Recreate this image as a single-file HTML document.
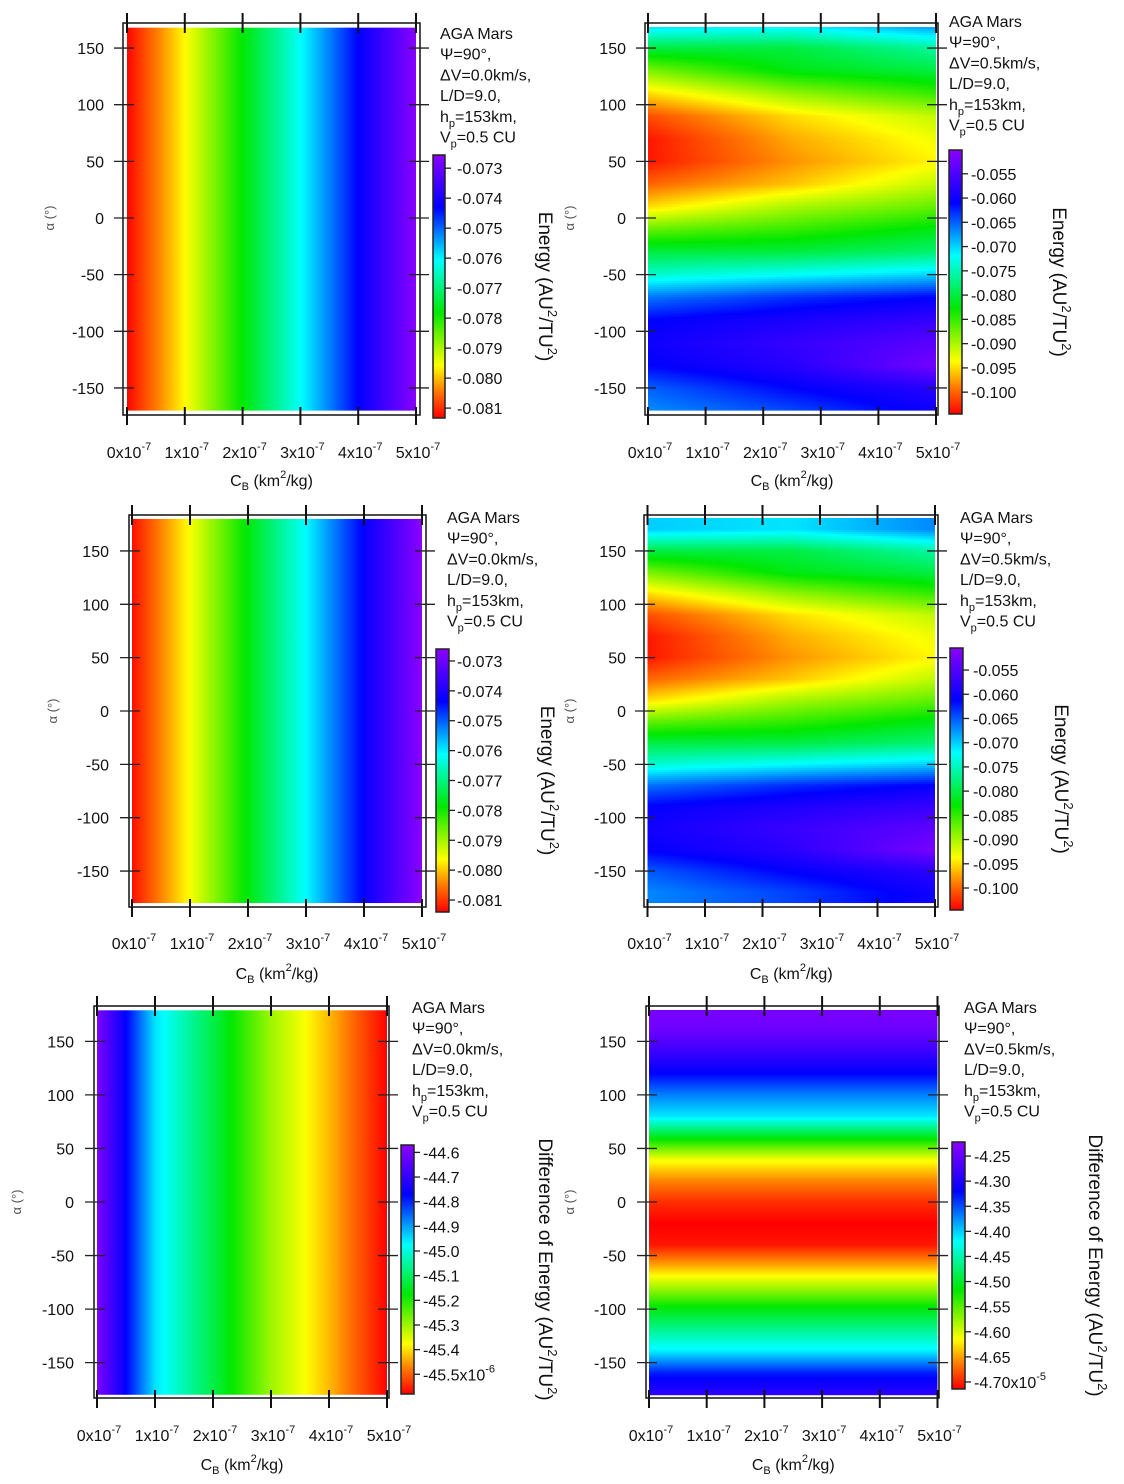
<!DOCTYPE html>
<html><head><meta charset="utf-8"><style>
html,body{margin:0;padding:0;background:#fff;}
svg{display:block;font-family:"Liberation Sans",Arial,sans-serif;}
</style></head><body>
<svg id="fig" width="1124" height="1484" viewBox="0 0 1124 1484" xmlns="http://www.w3.org/2000/svg"><defs id="defs"></defs></svg>
<script>
// ---------- DATA ----------
const xTickValues = [0,1,2,3,4,5];
const yTickValues = [150,100,50,0,-50,-100,-150];
// Panel 1 / 3 : energy vs CB (uniform in alpha), DeltaV = 0.0
const p1Cb = [0,1,2,3,4,5];
const p1Energy = [-0.0813,-0.0796,-0.0778,-0.0761,-0.0743,-0.0726];
const p3Cb = [0,1,2,3,4,5];
const p3Energy = [-0.0813,-0.0796,-0.0778,-0.0761,-0.0743,-0.0726];
const energyLabels0 = ["-0.073","-0.074","-0.075","-0.076","-0.077","-0.078","-0.079","-0.080","-0.081"];
const energyTicks0 = [-0.073,-0.074,-0.075,-0.076,-0.077,-0.078,-0.079,-0.080,-0.081];
// Panel 2 / 4 : energy vs alpha and CB, DeltaV = 0.5
const p2Alpha = [-170,-150,-130,-110,-90,-70,-50,-30,-10,10,30,50,70,90,110,130,150,170];
const p2CbGrid = [0,2.5,5];
const p2AtCb0  = [-0.067,-0.065,-0.061,-0.060,-0.061,-0.066,-0.074,-0.080,-0.087,-0.095,-0.100,-0.1035,-0.1035,-0.101,-0.095,-0.088,-0.080,-0.070];
const p2AtCb25 = [-0.064,-0.061,-0.058,-0.057,-0.059,-0.063,-0.072,-0.080,-0.085,-0.090,-0.096,-0.098,-0.097,-0.095,-0.089,-0.082,-0.080,-0.071];
const p2AtCb5  = [-0.060,-0.058,-0.052,-0.054,-0.057,-0.061,-0.070,-0.078,-0.082,-0.087,-0.091,-0.094,-0.093,-0.091,-0.085,-0.080,-0.076,-0.067];
const energyLabels5 = ["-0.055","-0.060","-0.065","-0.070","-0.075","-0.080","-0.085","-0.090","-0.095","-0.100"];
const energyTicks5 = [-0.055,-0.060,-0.065,-0.070,-0.075,-0.080,-0.085,-0.090,-0.095,-0.100];
// Panel 5 : energy difference vs CB (x1e-6)
const p5Cb = [0,0.5,1,2,3,4,5];
const p5Diff = [-44.59,-44.77,-44.95,-45.12,-45.30,-45.43,-45.58];
const diffLabels0 = ["-44.6","-44.7","-44.8","-44.9","-45.0","-45.1","-45.2","-45.3","-45.4","-45.5x10"];
const diffTicks0 = [-44.6,-44.7,-44.8,-44.9,-45.0,-45.1,-45.2,-45.3,-45.4,-45.5];
// Panel 6 : energy difference vs alpha (x1e-5)
const p6Alpha = [-180,-160,-140,-120,-100,-80,-60,-40,-20,0,20,40,60,80,100,120,140,160,180];
const p6Diff = [-4.29,-4.33,-4.41,-4.46,-4.51,-4.58,-4.645,-4.705,-4.715,-4.695,-4.66,-4.61,-4.51,-4.41,-4.37,-4.32,-4.28,-4.245,-4.235];
const diffLabels5 = ["-4.25","-4.30","-4.35","-4.40","-4.45","-4.50","-4.55","-4.60","-4.65","-4.70x10"];
const diffTicks5 = [-4.25,-4.30,-4.35,-4.40,-4.45,-4.50,-4.55,-4.60,-4.65,-4.70];

// ---------- HELPERS ----------
const NS="http://www.w3.org/2000/svg";
const svg=document.getElementById('fig');
const defs=document.getElementById('defs');
function mk(tag,attrs,parent){const e=document.createElementNS(NS,tag);for(const k in attrs)e.setAttribute(k,attrs[k]);(parent||svg).appendChild(e);return e;}
const CMAP=[[0,255,0,0],[0.1,255,120,0],[0.2,255,255,0],[0.4,0,232,0],[0.6,0,255,255],[0.8,0,0,255],[1,140,0,255]];
function cmap(f){f=Math.max(0,Math.min(1,f));for(let i=1;i<CMAP.length;i++){if(f<=CMAP[i][0]){const a=CMAP[i-1],b=CMAP[i];const t=(f-a[0])/(b[0]-a[0]);return `rgb(${Math.round(a[1]+t*(b[1]-a[1]))},${Math.round(a[2]+t*(b[2]-a[2]))},${Math.round(a[3]+t*(b[3]-a[3]))})`;}}return 'rgb(140,0,255)';}
function interp(xs,ys,x){if(x<=xs[0])return ys[0];if(x>=xs[xs.length-1])return ys[ys.length-1];for(let i=1;i<xs.length;i++){if(x<=xs[i]){const t=(x-xs[i-1])/(xs[i]-xs[i-1]);return ys[i-1]+t*(ys[i]-ys[i-1]);}}}
let gid=0;

function panel(P){
  const g=mk('g',{});
  
  
  const xs=v=>P.x0+(v/5)*(P.x5-P.x0);
  const ys=a=>P.yZero-a*P.ppd;
  const frac=v=>(v-P.vmin)/(P.vmax-P.vmin);
  const yT=ys(P.aTop), yB=ys(P.aBot);
  const hm=mk('g',{},g);
  
  
  if(P.kind==='x'){
    const id='g'+(gid++);const lg=mk('linearGradient',{id:id,x1:0,y1:0,x2:1,y2:0},defs);
    const N=60;for(let i=0;i<=N;i++){const cb=5*i/N;mk('stop',{offset:i/N,'stop-color':cmap(frac(interp(P.cbs,P.vals,cb)))},lg);}
    const r=mk('rect',{x:xs(0),y:yT,width:xs(5)-xs(0),height:yB-yT,fill:`url(#${id})`},hm);
    
    
  } else if(P.kind==='y'){
    for(let y=Math.floor(yT);y<yB;y++){const a=(P.yZero-(y+0.5))/P.ppd;
      const r=mk('rect',{x:xs(0),y:y,width:xs(5)-xs(0),height:1.2,fill:cmap(frac(interp(P.alphas,P.vals,a)))},hm);
      
      }
  } else {
    for(let y=Math.floor(yT);y<yB;y+=2){const a=(P.yZero-(y+1))/P.ppd;
      const colVals=P.cols.map(c=>interp(P.alphas,c,a));
      const id='g'+(gid++);const lg=mk('linearGradient',{id:id,x1:0,y1:0,x2:1,y2:0},defs);
      const N=20;for(let i=0;i<=N;i++){const cb=5*i/N;mk('stop',{offset:i/N,'stop-color':cmap(frac(interp(P.cbGrid,colVals,cb)))},lg);}
      const r=mk('rect',{x:xs(0),y:y,width:xs(5)-xs(0),height:Math.min(2.3,yB-y),fill:`url(#${id})`},hm);
      
      }
  }
  // frame
  const fr=mk('rect',{x:P.fx,y:P.fy,width:P.fw,height:P.fh,fill:'none',stroke:'#111','stroke-width':1.5},g);
  
  
  // x ticks
  xTickValues.forEach(v=>{const x=xs(v);
    const t1=mk('line',{x1:x,x2:x,y1:P.fy-10,y2:P.fy+10,stroke:'#111','stroke-width':2},g);
    
    
    const t2=mk('line',{x1:x,x2:x,y1:P.fy+P.fh-8,y2:P.fy+P.fh+10,stroke:'#111','stroke-width':2},g);
    
    
    const tl=mk('text',{x:x+2,y:P.tickLabY,'font-size':16,'text-anchor':'middle',fill:'#111'},g);
    
    
    const a=mk('tspan',{},tl);a.textContent=v+'x10';
    const b=mk('tspan',{dy:-8,'font-size':11},tl);b.textContent='-7';
  });
  // y ticks
  yTickValues.forEach(v=>{const y=ys(v);
    const t1=mk('line',{x1:P.fx-9,x2:P.fx+11,y1:y,y2:y,stroke:'#222','stroke-width':1.3},g);
    
    
    const t2=mk('line',{x1:P.fx+P.fw-11,x2:P.fx+P.fw+9,y1:y,y2:y,stroke:'#222','stroke-width':1.3},g);
    
    
    const tl=mk('text',{x:P.yLabRight,y:y+6,'font-size':16,'text-anchor':'end',fill:'#111'},g);
    
    
    tl.textContent=String(v);
  });
  // axis titles
  const xl=mk('text',{x:(P.x0+P.x5)/2,y:P.xlabY,'font-size':16,'text-anchor':'middle',fill:'#111'},g);
  
  
  mk('tspan',{},xl).textContent='C';
  mk('tspan',{dy:4,'font-size':11},xl).textContent='B';
  mk('tspan',{dy:-4},xl).textContent=' (km';
  mk('tspan',{dy:-8,'font-size':11},xl).textContent='2';
  mk('tspan',{dy:8},xl).textContent='/kg)';
  const yl=mk('text',{x:P.alphaX,y:P.yZero,'font-size':13,'text-anchor':'middle',fill:'#555',transform:`rotate(-90 ${P.alphaX} ${P.yZero})`},g);
  
  
  yl.textContent='α (°)';
  // info
  const info=mk('g',{},g);
  
  
  const lines=[['AGA Mars'],['Ψ=90°,'],['ΔV='+P.dv+'km/s,'],['L/D=9.0,'],['h','p','=153km,'],['V','p','=0.5 CU']];
  lines.forEach((L,i)=>{const t=mk('text',{x:P.infoX,y:P.infoY+6+i*20.7,'font-size':16,fill:'#111'},info);
    mk('tspan',{},t).textContent=L[0];
    if(L.length>1){mk('tspan',{dy:5,'font-size':11},t).textContent=L[1];mk('tspan',{dy:-5},t).textContent=L[2];}
  });
  // colorbar
  const C=P.cb;const cbg=mk('g',{},g);
  
  
  const id='g'+(gid++);const lg=mk('linearGradient',{id:id,x1:0,y1:1,x2:0,y2:0},defs);
  for(let i=0;i<=30;i++)mk('stop',{offset:i/30,'stop-color':cmap(i/30)},lg);
  mk('rect',{x:C.x,y:C.y,width:C.w,height:C.h,fill:`url(#${id})`,stroke:'#222','stroke-width':1.5},cbg);
  P.ticks.forEach((v,i)=>{const y=C.y+C.h-frac(v)*C.h;
    const tk=mk('line',{x1:C.x+C.w,x2:C.x+C.w+6,y1:y,y2:y,stroke:'#222','stroke-width':1.3},cbg);
    
    
    const t=mk('text',{x:P.cbLabelX,y:y+6,'font-size':16,fill:'#111'},cbg);
    
    
    mk('tspan',{},t).textContent=P.labels[i];
    if(i===P.labels.length-1&&P.exp){mk('tspan',{dy:-8,'font-size':11},t).textContent=P.exp;}
  });
  const cy=C.y+C.h/2;
  const tt=mk('text',{x:P.titleX,y:cy,'font-size':19,'text-anchor':'middle',fill:'#111',transform:`rotate(90 ${P.titleX} ${cy})`},g);
  
  
  mk('tspan',{},tt).textContent=P.title+' (AU';
  mk('tspan',{dy:-9,'font-size':13},tt).textContent='2';
  mk('tspan',{dy:9},tt).textContent='/TU';
  mk('tspan',{dy:-9,'font-size':13},tt).textContent='2';
  mk('tspan',{dy:9},tt).textContent=')';
}

panel({name:'panel-energy-dv0-top',kind:'x',cbs:p1Cb,vals:p1Energy,fx:123,fy:23,fw:297,fh:392,x0:127,x5:416,yZero:218,ppd:1.133,aTop:168,aBot:-170,
  cb:{x:433,y:155,w:12,h:263},vmin:-0.08133,vmax:-0.07256,ticks:energyTicks0,labels:energyLabels0,cbLabelX:457,infoX:440,infoY:33,dv:'0.0',
  yLabRight:104,alphaX:54,titleX:539,tickLabY:458,xlabY:486,title:'Energy'});
panel({name:'panel-energy-dv05-top',kind:'2d',alphas:p2Alpha,cbGrid:p2CbGrid,cols:[p2AtCb0,p2AtCb25,p2AtCb5],fx:645,fy:23,fw:293,fh:392,x0:648,x5:936,yZero:218,ppd:1.133,aTop:168,aBot:-170,
  cb:{x:949,y:150,w:13,h:264},vmin:-0.1045,vmax:-0.0501,ticks:energyTicks5,labels:energyLabels5,cbLabelX:971,infoX:949,infoY:21,dv:'0.5',
  yLabRight:626,alphaX:574,titleX:1053,tickLabY:458,xlabY:486,title:'Energy'});
panel({name:'panel-energy-dv0-middle',kind:'x',cbs:p3Cb,vals:p3Energy,fx:129,fy:515,fw:297,fh:392,x0:132,x5:422,yZero:711,ppd:1.067,aTop:180,aBot:-180,
  cb:{x:436,y:649,w:13,h:263},vmin:-0.0814,vmax:-0.0726,ticks:energyTicks0,labels:energyLabels0,cbLabelX:457,infoX:447,infoY:517,dv:'0.0',
  yLabRight:109,alphaX:57,titleX:541,tickLabY:949,xlabY:979,title:'Energy'});
panel({name:'panel-energy-dv05-middle',kind:'2d',alphas:p2Alpha,cbGrid:p2CbGrid,cols:[p2AtCb0,p2AtCb25,p2AtCb5],fx:644,fy:515,fw:294,fh:392,x0:647.5,x5:935,yZero:711,ppd:1.067,aTop:180,aBot:-180,
  cb:{x:950,y:648,w:13,h:262},vmin:-0.10454,vmax:-0.05045,ticks:energyTicks5,labels:energyLabels5,cbLabelX:973,infoX:960,infoY:517,dv:'0.5',
  yLabRight:626,alphaX:574,titleX:1055,tickLabY:949,xlabY:979,title:'Energy'});
panel({name:'panel-difference-dv0',kind:'x',cbs:p5Cb,vals:p5Diff,fx:94,fy:1006,fw:295,fh:392,x0:97,x5:387,yZero:1202,ppd:1.071,aTop:179,aBot:-180,
  cb:{x:401,y:1145,w:13,h:249},vmin:-45.58,vmax:-44.57,ticks:diffTicks0,labels:diffLabels0,exp:'-6',cbLabelX:423,infoX:412,infoY:1007,dv:'0.0',
  yLabRight:74,alphaX:21,titleX:539,tickLabY:1441,xlabY:1470,title:'Difference of Energy'});
panel({name:'panel-difference-dv05',kind:'y',alphas:p6Alpha,vals:p6Diff,fx:646,fy:1006,fw:293,fh:392,x0:649,x5:937.5,yZero:1202,ppd:1.071,aTop:179,aBot:-180,
  cb:{x:952,y:1142,w:13,h:247},vmin:-4.714,vmax:-4.222,ticks:diffTicks5,labels:diffLabels5,exp:'-5',cbLabelX:974,infoX:964,infoY:1007,dv:'0.5',
  yLabRight:626,alphaX:574,titleX:1089,tickLabY:1441,xlabY:1470,title:'Difference of Energy'});
</script>
</body></html>
